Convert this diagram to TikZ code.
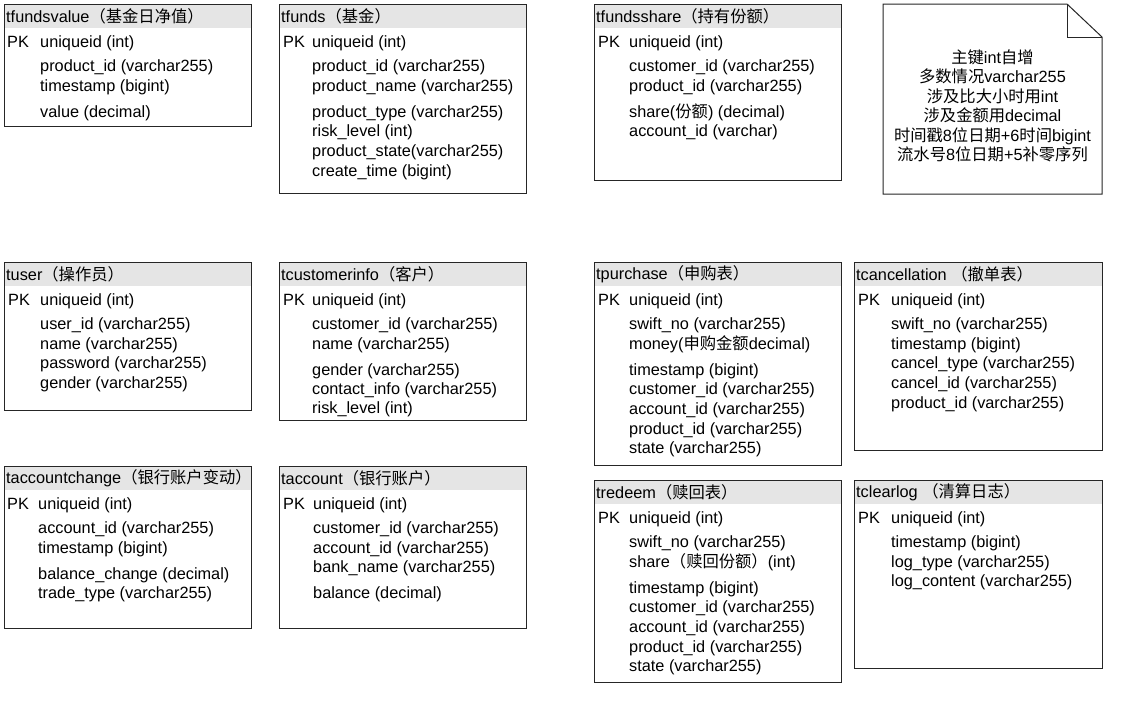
\documentclass[tikz,border=0pt]{standalone}
\usepackage{fontspec}
\setmainfont{Liberation Sans}
\newfontfamily\cjk{Noto Sans CJK SC}
\newcommand{\zh}[1]{{\cjk #1}}

\tikzset{
  tbox/.style={draw=black!85, line width=1pt},
  thead/.style={fill=black!10},
  title/.style={anchor=west, inner sep=0pt, font=\fontsize{16.3}{19}\selectfont},
  field/.style={anchor=west, inner sep=0pt, text height=12pt, text depth=3.5pt, font=\fontsize{16.3}{19}\selectfont},
  notetext/.style={align=center, inner sep=0pt, font=\fontsize{16.3}{19.5}\selectfont}
}

\begin{document}
\begin{tikzpicture}[x=1pt, y=-1pt]
  \useasboundingbox (0,0) rectangle (1122,702);

  % tfundsvalue
  \fill[thead] (4,4) rectangle (251,28);
  \draw[tbox] (4,4) rectangle (251,126);
  \node[title] (fvtitle) at (6,16) {tfundsvalue\zh{（基金日净值）}};
  \node[field] (fvpk) at (7,43) {PK};
  \node[field] (fvuid) at (40,43) {uniqueid (int)};
  \node[field] (fvprod) at (40,67) {product\_id (varchar255)};
  \node[field] (fvtime) at (40,87) {timestamp (bigint)};
  \node[field] (fvval) at (40,113) {value (decimal)};

  % tfunds
  \fill[thead] (279,4) rectangle (526,28);
  \draw[tbox] (279,4) rectangle (526,193);
  \node[title] (fdtitle) at (281,16) {tfunds\zh{（基金）}};
  \node[field] (fdpk) at (283,43) {PK};
  \node[field] (fduid) at (312,43) {uniqueid (int)};
  \node[field] (fdprod) at (312,67) {product\_id (varchar255)};
  \node[field] (fdname) at (312,87) {product\_name (varchar255)};
  \node[field] (fdtype) at (312,113) {product\_type (varchar255)};
  \node[field] (fdrisk) at (312,132) {risk\_level (int)};
  \node[field] (fdstate) at (312,152) {product\_state(varchar255)};
  \node[field] (fdcreate) at (312,172) {create\_time (bigint)};

  % tfundsshare
  \fill[thead] (594,4) rectangle (841,28);
  \draw[tbox] (594,4) rectangle (841,180);
  \node[title] (fstitle) at (596,16) {tfundsshare\zh{（持有份额）}};
  \node[field] (fspk) at (598,43) {PK};
  \node[field] (fsuid) at (629,43) {uniqueid (int)};
  \node[field] (fscust) at (629,67) {customer\_id (varchar255)};
  \node[field] (fsprod) at (629,87) {product\_id (varchar255)};
  \node[field] (fsshare) at (629,113) {share(\zh{份额}) (decimal)};
  \node[field] (fsacc) at (629,132) {account\_id (varchar)};

  % note
  \draw[tbox, fill=white] (883,4) -- (1067,4) -- (1102,37) -- (1102,194) -- (883,194) -- cycle;
  \draw[tbox] (1067,4) -- (1067,37) -- (1102,37);
  \node[notetext] (memo) at (992.5,106) {\zh{主键}int\zh{自增}\\
    \zh{多数情况}varchar255\\
    \zh{涉及比大小时用}int\\
    \zh{涉及金额用}decimal\\
    \zh{时间戳}8\zh{位日期}+6\zh{时间}bigint\\
    \zh{流水号}8\zh{位日期}+5\zh{补零序列}};

  % tuser
  \fill[thead] (4,262) rectangle (251,286);
  \draw[tbox] (4,262) rectangle (251,410);
  \node[title] (ustitle) at (6,274) {tuser\zh{（操作员）}};
  \node[field] (uspk) at (8,301) {PK};
  \node[field] (usuid) at (40,301) {uniqueid (int)};
  \node[field] (usid) at (40,325) {user\_id (varchar255)};
  \node[field] (usname) at (40,345) {name (varchar255)};
  \node[field] (uspass) at (40,364) {password (varchar255)};
  \node[field] (usgender) at (40,384) {gender (varchar255)};

  % tcustomerinfo
  \fill[thead] (279,262) rectangle (526,286);
  \draw[tbox] (279,262) rectangle (526,420);
  \node[title] (cutitle) at (281,274) {tcustomerinfo\zh{（客户）}};
  \node[field] (cupk) at (283,301) {PK};
  \node[field] (cuuid) at (312,301) {uniqueid (int)};
  \node[field] (cuid) at (312,325) {customer\_id (varchar255)};
  \node[field] (cuname) at (312,345) {name (varchar255)};
  \node[field] (cugender) at (312,371) {gender (varchar255)};
  \node[field] (cucontact) at (312,390) {contact\_info (varchar255)};
  \node[field] (curisk) at (312,409) {risk\_level (int)};

  % tpurchase
  \fill[thead] (594,262) rectangle (841,286);
  \draw[tbox] (594,262) rectangle (841,465);
  \node[title] (putitle) at (596,274) {tpurchase\zh{（申购表）}};
  \node[field] (pupk) at (598,301) {PK};
  \node[field] (puuid) at (629,301) {uniqueid (int)};
  \node[field] (puswift) at (629,325) {swift\_no (varchar255)};
  \node[field] (pumoney) at (629,345) {money(\zh{申购金额}decimal)};
  \node[field] (putime) at (629,371) {timestamp (bigint)};
  \node[field] (pucust) at (629,390) {customer\_id (varchar255)};
  \node[field] (puacc) at (629,410) {account\_id (varchar255)};
  \node[field] (puprod) at (629,430) {product\_id (varchar255)};
  \node[field] (pustate) at (629,449) {state (varchar255)};

  % tcancellation
  \fill[thead] (854,262) rectangle (1102,286);
  \draw[tbox] (854,262) rectangle (1102,450);
  \node[title] (catitle) at (856,274) {tcancellation \zh{（撤单表）}};
  \node[field] (capk) at (858,301) {PK};
  \node[field] (cauid) at (891,301) {uniqueid (int)};
  \node[field] (caswift) at (891,325) {swift\_no (varchar255)};
  \node[field] (catime) at (891,345) {timestamp (bigint)};
  \node[field] (catype) at (891,364) {cancel\_type (varchar255)};
  \node[field] (caid) at (891,384) {cancel\_id (varchar255)};
  \node[field] (caprod) at (891,404) {product\_id (varchar255)};

  % taccountchange
  \fill[thead] (4,466) rectangle (251,490);
  \draw[tbox] (4,466) rectangle (251,628);
  \node[title] (actitle) at (6,478) {taccountchange\zh{（银行账户变动）}};
  \node[field] (acpk) at (7,505) {PK};
  \node[field] (acuid) at (38,505) {uniqueid (int)};
  \node[field] (acacc) at (38,529) {account\_id (varchar255)};
  \node[field] (actime) at (38,549) {timestamp (bigint)};
  \node[field] (acbal) at (38,575) {balance\_change (decimal)};
  \node[field] (actrade) at (38,594) {trade\_type (varchar255)};

  % taccount
  \fill[thead] (279,466) rectangle (526,490);
  \draw[tbox] (279,466) rectangle (526,628);
  \node[title] (attitle) at (281,478) {taccount\zh{（银行账户）}};
  \node[field] (atpk) at (283,505) {PK};
  \node[field] (atuid) at (313,505) {uniqueid (int)};
  \node[field] (atcust) at (313,529) {customer\_id (varchar255)};
  \node[field] (atacc) at (313,549) {account\_id (varchar255)};
  \node[field] (atbank) at (313,568) {bank\_name (varchar255)};
  \node[field] (atbal) at (313,594) {balance (decimal)};

  % tredeem
  \fill[thead] (594,480) rectangle (841,504);
  \draw[tbox] (594,480) rectangle (841,682);
  \node[title] (rdtitle) at (596,492) {tredeem\zh{（赎回表）}};
  \node[field] (rdpk) at (598,519) {PK};
  \node[field] (rduid) at (629,519) {uniqueid (int)};
  \node[field] (rdswift) at (629,543) {swift\_no (varchar255)};
  \node[field] (rdshare) at (629,563) {share\zh{（赎回份额）}(int)};
  \node[field] (rdtime) at (629,589) {timestamp (bigint)};
  \node[field] (rdcust) at (629,608) {customer\_id (varchar255)};
  \node[field] (rdacc) at (629,628) {account\_id (varchar255)};
  \node[field] (rdprod) at (629,648) {product\_id (varchar255)};
  \node[field] (rdstate) at (629,667) {state (varchar255)};

  % tclearlog
  \fill[thead] (854,480) rectangle (1102,504);
  \draw[tbox] (854,480) rectangle (1102,668);
  \node[title] (cltitle) at (856,492) {tclearlog \zh{（清算日志）}};
  \node[field] (clpk) at (858,519) {PK};
  \node[field] (cluid) at (891,519) {uniqueid (int)};
  \node[field] (cltime) at (891,543) {timestamp (bigint)};
  \node[field] (cltype) at (891,563) {log\_type (varchar255)};
  \node[field] (clcont) at (891,582) {log\_content (varchar255)};
\end{tikzpicture}
\end{document}
